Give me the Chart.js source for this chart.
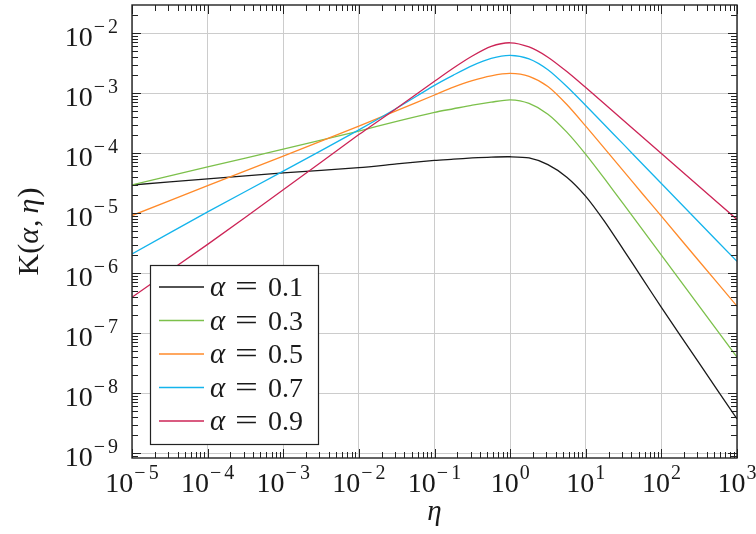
<!DOCTYPE html>
<html>
<head>
<meta charset="utf-8">
<script src="https://cdn.jsdelivr.net/npm/chart.js@4.4.1/dist/chart.umd.min.js"></script>
<style>
  body { margin: 0; background: #fff; }
  canvas { display: block; }
</style>
</head>
<body>
<canvas id="kernelChart" width="756" height="534"></canvas>
<script>
// eta sample points (x axis, log scale)
const etaValues = [1e-5, 1e-4, 1e-3, 1e-2, 0.0316, 0.1, 0.178, 0.316, 0.562, 1, 1.78, 3.16, 5.62, 10, 17.8, 31.6, 56.2, 100, 316, 1000];

// K(alpha, eta)
const kAlpha01 = [2.95e-5, 3.72e-5, 4.68e-5, 5.75e-5, 6.61e-5, 7.59e-5, 7.94e-5, 8.32e-5, 8.61e-5, 8.71e-5, 8.32e-5, 6.46e-5, 3.98e-5, 1.91e-5, 7.24e-6, 2.45e-6, 8.13e-7, 2.69e-7, 3.16e-8, 3.72e-9];
const kAlpha03 = [2.95e-5, 5.89e-5, 1.17e-4, 2.34e-4, 3.39e-4, 4.79e-4, 5.50e-4, 6.31e-4, 7.08e-4, 7.76e-4, 6.76e-4, 4.47e-4, 2.24e-4, 9.55e-5, 3.72e-5, 1.41e-5, 5.31e-6, 2.00e-6, 2.82e-7, 3.98e-8];
const kAlpha05 = [9.12e-6, 2.88e-5, 8.91e-5, 2.82e-4, 5.13e-4, 9.33e-4, 1.26e-3, 1.62e-3, 1.95e-3, 2.14e-3, 1.91e-3, 1.29e-3, 6.46e-4, 2.82e-4, 1.19e-4, 5.01e-5, 2.11e-5, 8.91e-6, 1.58e-6, 2.82e-7];
const kAlpha07 = [2.09e-6, 1.05e-5, 5.01e-5, 2.45e-4, 5.62e-4, 1.35e-3, 2.00e-3, 2.88e-3, 3.80e-3, 4.27e-3, 3.72e-3, 2.45e-3, 1.29e-3, 6.24e-4, 2.95e-4, 1.40e-4, 6.61e-5, 3.13e-5, 7.00e-6, 1.57e-6];
const kAlpha09 = [3.98e-7, 3.02e-6, 2.45e-5, 2.04e-4, 5.62e-4, 1.58e-3, 2.63e-3, 4.17e-3, 6.03e-3, 6.92e-3, 5.89e-3, 3.98e-3, 2.29e-3, 1.24e-3, 6.61e-4, 3.51e-4, 1.86e-4, 9.89e-5, 2.79e-5, 7.85e-6];

const alphaLabels = ['0.1', '0.3', '0.5', '0.7', '0.9'];
const seriesValues = [kAlpha01, kAlpha03, kAlpha05, kAlpha07, kAlpha09];
const seriesColors = ['#1a1a1a', '#7cc04b', '#ff8a2a', '#14b4ec', '#cc2456'];

// axis decades
const xDecades = [-5, -4, -3, -2, -1, 0, 1, 2, 3];
const yDecades = [-9, -8, -7, -6, -5, -4, -3, -2];

const serif = '"Liberation Serif", serif';
const frameColor = '#222';
const textColor = '#1a1a1a';

function isDecade(v) {
  const l = Math.log10(v);
  return Math.abs(l - Math.round(l)) < 1e-6;
}

// all 1..9 x 10^n ticks between lo and hi
function logTicks(lo, hi) {
  const out = [];
  for (let e = Math.floor(Math.log10(lo)); e <= Math.ceil(Math.log10(hi)); e++) {
    for (let m = 1; m <= 9; m++) {
      const v = m * Math.pow(10, e);
      if (v >= lo * 0.999 && v <= hi * 1.001) out.push({ value: v });
    }
  }
  return out;
}

// parts: {t, italic, gap} drawn one after another
function drawRich(ctx, parts, x, y, align, size) {
  let total = 0;
  parts.forEach(p => {
    ctx.font = (p.italic ? 'italic ' : '') + size + 'px ' + serif;
    p.w = ctx.measureText(p.t).width + (p.gap || 0);
    total += p.w;
  });
  let cx = align === 'center' ? x - total / 2 : (align === 'right' ? x - total : x);
  parts.forEach(p => {
    ctx.font = (p.italic ? 'italic ' : '') + size + 'px ' + serif;
    ctx.fillText(p.t, cx, y);
    cx += p.w;
  });
}

function drawPower(ctx, exp, x, y, align) {
  ctx.font = '28px ' + serif;
  const w10 = ctx.measureText('10').width;
  ctx.font = '20px ' + serif;
  const minus = exp < 0 ? '\u2212' : '';
  const digits = String(Math.abs(exp));
  const wMinus = minus ? ctx.measureText(minus).width + 3 : 0;
  const wDig = ctx.measureText(digits).width;
  const total = w10 + 1 + wMinus + wDig;
  const sx = align === 'center' ? x - total / 2 : x - total;
  ctx.font = '28px ' + serif;
  ctx.fillText('10', sx, y);
  ctx.font = '20px ' + serif;
  if (minus) ctx.fillText(minus, sx + w10 + 1, y - 13);
  ctx.fillText(digits, sx + w10 + 1 + wMinus, y - 13);
}

const axesPlugin = {
  id: 'pgfAxes',
  afterDraw(chart) {
    const ctx = chart.ctx;
    const area = chart.chartArea;
    const xs = chart.scales.x;
    const ys = chart.scales.y;
    ctx.save();

    // tick marks on all four sides, inward
    ctx.strokeStyle = frameColor;
    ctx.lineWidth = 1;
    ctx.beginPath();
    xs.ticks.forEach(t => {
      const px = Math.round(xs.getPixelForValue(t.value)) + 0.5;
      const len = isDecade(t.value) ? 9 : 6;
      ctx.moveTo(px, area.bottom); ctx.lineTo(px, area.bottom - len);
      ctx.moveTo(px, area.top); ctx.lineTo(px, area.top + len);
    });
    ys.ticks.forEach(t => {
      const py = Math.round(ys.getPixelForValue(t.value)) + 0.5;
      const len = isDecade(t.value) ? 9 : 6;
      ctx.moveTo(area.left, py); ctx.lineTo(area.left + len, py);
      ctx.moveTo(area.right, py); ctx.lineTo(area.right - len, py);
    });
    ctx.stroke();

    // frame
    ctx.lineWidth = 1.4;
    ctx.strokeRect(area.left, area.top, area.right - area.left, area.bottom - area.top);

    // tick labels
    ctx.fillStyle = textColor;
    ctx.textBaseline = 'alphabetic';
    xDecades.forEach(e => {
      drawPower(ctx, e, xs.getPixelForValue(Math.pow(10, e)), 492, 'center');
    });
    yDecades.forEach(e => {
      drawPower(ctx, e, 118, ys.getPixelForValue(Math.pow(10, e)) + 13, 'right');
    });

    // axis titles
    drawRich(ctx, [{ t: '\u03b7', italic: true }], (area.left + area.right) / 2, 520, 'center', 29);
    ctx.save();
    ctx.translate(38, (area.top + area.bottom) / 2);
    ctx.rotate(-Math.PI / 2);
    drawRich(ctx, [{ t: 'K(' }, { t: '\u03b1', italic: true, gap: 1 }, { t: ',', gap: 6 }, { t: '\u03b7', italic: true, gap: 1 }, { t: ')' }], 0, 0, 'center', 30);
    ctx.restore();

    // legend box
    const lx = 150.5, ly = 265.5, lw = 168, lh = 179;
    ctx.fillStyle = '#fff';
    ctx.fillRect(lx, ly, lw, lh);
    ctx.strokeStyle = frameColor;
    ctx.lineWidth = 1.2;
    ctx.strokeRect(lx, ly, lw, lh);
    chart.data.datasets.forEach((ds, i) => {
      const rowY = 287 + i * 33.5;
      ctx.strokeStyle = ds.borderColor;
      ctx.lineWidth = 1.3;
      ctx.beginPath();
      ctx.moveTo(159, rowY); ctx.lineTo(204, rowY);
      ctx.stroke();
      ctx.fillStyle = textColor;
      ctx.textAlign = 'left';
      ctx.font = 'italic 29px ' + serif;
      ctx.fillText('\u03b1', 210, rowY + 9);
      ctx.save();
      ctx.font = '29px ' + serif;
      ctx.translate(235, rowY + 9);
      ctx.scale(1.4, 1);
      ctx.fillText('=', 0, 0);
      ctx.restore();
      ctx.font = '28px ' + serif;
      ctx.fillText(alphaLabels[i], 268, rowY + 9);
    });
    ctx.restore();
  }
};

const datasets = seriesValues.map((vals, i) => ({
  label: '\u03b1 = ' + alphaLabels[i],
  data: etaValues.map((x, j) => ({ x: x, y: vals[j] })),
  borderColor: seriesColors[i],
  borderWidth: 1.3,
  pointRadius: 0,
  fill: false,
  tension: 0.25,
  order: seriesValues.length - i
}));

new Chart(document.getElementById('kernelChart').getContext('2d'), {
  type: 'line',
  data: { datasets: datasets },
  options: {
    responsive: false,
    animation: false,
    layout: { padding: { left: 132, right: 19, top: 5, bottom: 76 } },
    plugins: { legend: { display: false }, tooltip: { enabled: false } },
    scales: {
      x: {
        type: 'logarithmic',
        min: 1e-5,
        max: 1e3,
        afterBuildTicks: scale => { scale.ticks = logTicks(1e-5, 1e3); },
        ticks: { display: false },
        grid: {
          drawTicks: false,
          color: c => (c.tick && isDecade(c.tick.value)) ? '#cccccc' : 'rgba(0,0,0,0)'
        },
        border: { display: false }
      },
      y: {
        type: 'logarithmic',
        min: 8.3e-10,
        max: 2.95e-2,
        afterBuildTicks: scale => { scale.ticks = logTicks(8.3e-10, 2.95e-2); },
        ticks: { display: false },
        grid: {
          drawTicks: false,
          color: c => (c.tick && isDecade(c.tick.value)) ? '#cccccc' : 'rgba(0,0,0,0)'
        },
        border: { display: false }
      }
    }
  },
  plugins: [axesPlugin]
});
</script>
</body>
</html>
